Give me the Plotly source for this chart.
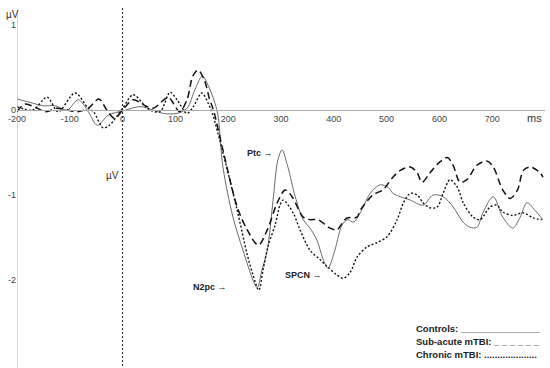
import plotly.graph_objects as go

# ---------------- data (ms, µV) ----------------
t_controls = [-200, -170, -151, -128, -105, -84, -65, -48, -27, 1, 33, 58, 77, 103, 122, 137, 151, 162, 175, 181,
              190, 209, 228, 247, 255, 264, 274, 285, 294, 302, 313, 327, 342, 355, 368, 380, 389, 402, 412, 418,
              427, 437, 450, 469, 488, 503, 512, 526, 545, 569, 588, 607, 626, 645, 658, 671, 683, 702, 720, 739,
              753, 766, 781, 796]
v_controls = [0.13, 0.08, 0.05, 0.05, 0.0, 0.12, -0.02, -0.18, -0.06, -0.01, 0.04, 0.0, -0.04, -0.04, 0.02, 0.24, 0.40, 0.29, 0.08, -0.08,
              -0.67, -1.26, -1.65, -2.0, -2.09, -1.88, -1.65, -1.06, -0.59, -0.47, -0.67, -1.02, -1.29, -1.39, -1.53, -1.76, -1.86, -1.65, -1.41, -1.33,
              -1.29, -1.32, -1.21, -0.98, -0.88, -0.91, -0.98, -1.02, -1.06, -1.12, -1.0, -1.02, -1.14, -1.32, -1.38, -1.38, -1.2, -1.02, -1.26, -1.39,
              -1.26, -1.09, -1.18, -1.29]

t_subacute = [-200, -185, -165, -145, -125, -105, -85, -65, -45, -30, -15, 0, 20, 40, 58, 78, 87, 96, 108, 122,
              133, 143, 155, 165, 172, 190, 217, 236, 257, 274, 293, 308, 321, 342, 355, 370, 393, 406, 416, 425,
              444, 450, 474, 493, 512, 526, 545, 558, 567, 582, 601, 615, 626, 639, 652, 671, 690, 702, 720, 734,
              748, 759, 772, 791, 796]
v_subacute = [-0.02, 0.07, 0.03, -0.02, 0.02, 0.0, -0.02, 0.02, 0.13, 0.0, -0.1, 0.0, 0.12, 0.06, 0.02, 0.12, 0.15, 0.08, -0.02, 0.12,
              0.40, 0.47, 0.35, 0.12, 0.0, -0.47, -1.14, -1.41, -1.59, -1.41, -1.09, -0.94, -1.02, -1.26, -1.29, -1.29, -1.39, -1.41, -1.33, -1.27,
              -1.26, -1.18, -1.0, -0.94, -0.79, -0.71, -0.67, -0.74, -0.85, -0.74, -0.61, -0.56, -0.65, -0.85, -0.82, -0.65, -0.6, -0.67, -0.94, -1.04,
              -0.94, -0.71, -0.67, -0.74, -0.79]

t_chronic = [-200, -170, -143, -122, -90, -65, -55, -37, -25, 0, 20, 38, 52, 71, 90, 103, 122, 134, 150, 162,
             170, 190, 217, 236, 247, 258, 266, 276, 289, 298, 304, 323, 336, 355, 374, 389, 406, 418, 431, 444,
             463, 482, 501, 520, 532, 545, 558, 569, 582, 596, 607, 620, 634, 645, 664, 677, 696, 709, 720, 739,
             759, 778, 794]
v_chronic = [0.04, 0.0, 0.15, -0.02, 0.2, 0.02, -0.02, -0.21, -0.18, 0.02, 0.18, 0.08, 0.0, -0.02, 0.21, 0.12, -0.04, 0.04, 0.2, 0.08,
             -0.04, -0.5, -1.18, -1.7, -1.94, -2.12, -1.88, -1.59, -1.35, -1.12, -1.06, -1.21, -1.41, -1.65, -1.76, -1.85, -1.94, -1.98, -1.91, -1.73,
             -1.61, -1.56, -1.49, -1.29, -1.09, -0.98, -1.0, -1.09, -1.15, -1.14, -0.98, -0.82, -0.91, -1.09, -1.26, -1.29, -1.14, -1.12, -1.2, -1.24,
             -1.21, -1.27, -1.29]

x_tick_vals = [-200, -100, 0, 100, 200, 300, 400, 500, 600, 700]
x_tick_text = ["-200", "-100", "0", "100", "200", "300", "400", "500", "600", "700"]
y_tick_vals = [1, 0, -1, -2]
y_tick_text = ["1", "0", "-1", "-2"]

components = ["Ptc \u2192", "N2pc \u2192", "SPCN \u2192"]
component_ms = [260, 166, 342]
component_uv = [-0.51, -2.08, -1.94]

legend_labels = ["Controls: _______________", "Sub-acute mTBI: _ _ _ _ _ _", "Chronic mTBI: ...................."]
# -------------------------------------------------

FONT = "Liberation Sans, Arial, sans-serif"
fig = go.Figure()
fig.add_trace(go.Scatter(x=t_controls, y=v_controls, mode="lines", name="Controls",
                         line=dict(color="#6a6a6a", width=1, shape="spline", smoothing=0.9)))
fig.add_trace(go.Scatter(x=t_subacute, y=v_subacute, mode="lines", name="Sub-acute mTBI",
                         line=dict(color="#111111", width=1.5, dash="7px,4px", shape="spline", smoothing=0.9)))
fig.add_trace(go.Scatter(x=t_chronic, y=v_chronic, mode="lines", name="Chronic mTBI",
                         line=dict(color="#111111", width=1.4, dash="2px,2px", shape="spline", smoothing=0.9)))

YMIN, YMAX = -3.035, 1.294
fig.update_layout(
    width=550, height=368, margin=dict(l=17, r=5, t=0, b=0, autoexpand=False),
    paper_bgcolor="white", plot_bgcolor="white", showlegend=False,
    font=dict(family=FONT, size=9, color="#333333"),
)
fig.update_xaxes(range=[-200, 800], tickvals=x_tick_vals, ticktext=x_tick_text, automargin=False,
                 showgrid=False, zeroline=False, showline=True, linecolor="#aaaaaa", linewidth=1,
                 anchor="free", position=1 - 110 / 368, ticks="",
                 tickfont=dict(size=9, color="#444444"))
fig.update_yaxes(range=[YMIN, YMAX], tickvals=y_tick_vals, ticktext=y_tick_text, automargin=False,
                 showgrid=False, zeroline=False, showline=False, ticks="",
                 tickfont=dict(size=9, color="#444444"))

# y axis line and stimulus-onset dotted line
fig.add_shape(type="line", x0=-200, x1=-200, y0=1.18, y1=YMIN, line=dict(color="#aaaaaa", width=1))
fig.add_shape(type="line", x0=0, x1=0, y0=1.2, y1=YMIN, line=dict(color="#111111", width=1, dash="2px,2px"))

anns = []
anns.append(dict(x=-192, y=1.12, text="\u00b5V", xanchor="right", yanchor="middle", showarrow=False,
                 font=dict(size=10, color="#333333")))
anns.append(dict(x=-3, y=-0.77, text="\u00b5V", xanchor="right", yanchor="middle", showarrow=False,
                 font=dict(size=10, color="#333333")))
anns.append(dict(x=781, y=-0.09, text="ms", xanchor="center", yanchor="middle", showarrow=False,
                 font=dict(size=11, color="#333333")))
for txt, xm, yv in zip(components, component_ms, component_uv):
    anns.append(dict(x=xm, y=yv, text="<b>" + txt + "</b>", xanchor="center", yanchor="middle",
                     showarrow=False, font=dict(size=9, color="#222222")))
for i, txt in enumerate(legend_labels):
    anns.append(dict(x=551, y=-2.565 - 0.153 * i, text="<b>" + txt + "</b>", xanchor="left", yanchor="middle",
                     showarrow=False, font=dict(size=9.5, color="#222222")))
fig.update_layout(annotations=anns)

fig.write_html("out.html", config={"displayModeBar": False},
               post_script="document.body.style.margin='0px';document.body.style.padding='0px';"
                           "document.documentElement.style.overflow='hidden';")
